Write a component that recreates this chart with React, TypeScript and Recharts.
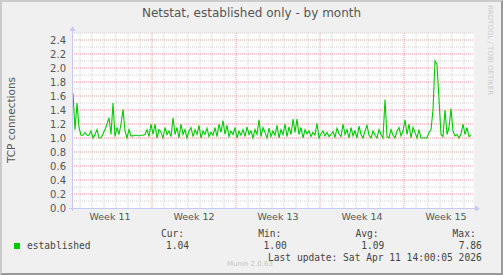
import React from 'react';
import {
  LineChart,
  Line,
  XAxis,
  YAxis,
  ReferenceLine,
} from 'recharts';

// established connections, one sample every 4 hours (oldest first)
const established = [
  1.64, 1.12, 1.5, 1.15, 1.04, 1.04, 1.08, 1.04, 1.04, 1.1,
  1.0, 1.05, 1.12, 1.0, 1.0, 1.06, 1.12, 1.2, 1.29, 1.05,
  1.5, 1.02, 1.15, 1.05, 1.2, 1.41, 1.1, 1.0, 1.12, 1.03,
  1.03, 1.04, 1.04, 1.03, 1.04, 1.04, 1.05, 1.12, 1.02, 1.2,
  1.05, 1.2, 1.0, 1.12, 1.08, 1.0, 1.15, 1.05, 1.1, 1.02,
  1.29, 1.05, 1.15, 1.0, 1.2, 1.05, 1.12, 1.0, 1.1, 1.15,
  1.02, 1.12, 1.05, 1.18, 1.0, 1.1, 1.05, 1.14, 1.02, 1.08,
  1.04, 1.15, 1.02, 1.2, 1.08, 1.25, 1.05, 1.18, 1.02, 1.1,
  1.05, 1.15, 1.0, 1.1, 1.04, 1.12, 1.02, 1.16, 1.05, 1.1,
  1.0, 1.12, 1.05, 1.26, 1.02, 1.15, 1.08, 1.0, 1.14, 1.02,
  1.1, 1.04, 1.18, 1.0, 1.12, 1.05, 1.2, 1.02, 1.16, 1.05,
  1.27, 1.08, 1.27, 1.05, 1.15, 1.0, 1.12, 1.06, 1.1, 1.02,
  1.08, 1.04, 1.21, 1.0, 1.06, 1.1, 1.03, 1.08, 1.02, 1.05,
  1.09, 1.01, 1.14, 1.06, 1.02, 1.2, 1.05, 1.12, 1.0, 1.15,
  1.03, 1.1, 1.0, 1.17, 1.05, 1.0, 1.1, 1.18, 1.04, 1.0,
  1.1, 1.04, 1.0, 1.12, 1.05, 1.0, 1.55, 1.02, 1.0, 1.12,
  1.04, 1.0, 1.1, 1.15, 1.03, 1.1, 1.26, 1.05, 1.2, 1.0,
  1.15, 1.08, 1.0, 1.12, 1.0, 1.0, 1.0, 1.0, 1.08, 1.12,
  1.4, 2.1, 2.05, 1.55, 1.05, 1.02, 1.4, 1.05, 1.15, 1.42,
  1.1, 1.03, 1.05, 1.0, 1.06, 1.2, 1.05, 1.15, 1.02, 1.04,
];

// time axis in days from the left edge of the graph
const rangeDays = 33.5;
const sampleDays = 1 / 6;
const weekStarts = [6.667, 13.667, 20.667, 27.667];
const weekLabels = ['Week 11', 'Week 12', 'Week 13', 'Week 14', 'Week 15'];
const weekMids = [3.167, 10.167, 17.167, 24.167, 31.167];

const yMax = 2.5;
const yTicks = [0, 0.2, 0.4, 0.6, 0.8, 1.0, 1.2, 1.4, 1.6, 1.8, 2.0, 2.2, 2.4];
const yMinor = [0.1, 0.3, 0.5, 0.7, 0.9, 1.1, 1.3, 1.5, 1.7, 1.9, 2.1, 2.3, 2.5];

const legendCols = ['Cur:', 'Min:', 'Avg:', 'Max:'];
const legendVals = ['1.04', '1.00', '1.09', '7.86'];

const data = established.map((v, i) => ({ t: i * sampleDays + sampleDays / 2, v }));

const dayLines: number[] = [];
for (let d = weekStarts[0] - 6; d < rangeDays; d += 1) {
  const r = Math.round(d * 1000) / 1000;
  if (!weekStarts.some((w) => Math.abs(w - r) < 0.01)) dayLines.push(r);
}

const W = 503;
const H = 275;
const PL = 72;
const PT = 33;
const PR = 474;
const PB = 208;

const sans = '"DejaVu Sans", sans-serif';
const mono = '"DejaVu Sans Mono", monospace';
const abs = (x: number, y: number): React.CSSProperties => ({
  position: 'absolute',
  left: x,
  top: y,
  whiteSpace: 'nowrap',
  lineHeight: 1,
});

export default function App() {
  const minorStroke = '#cfcfcf';
  const majorStroke = '#f29a9a';
  return (
    <div style={{ position: 'absolute', left: 0, top: 0, width: W, height: H, background: '#f0f0f0', overflow: 'hidden' }}>
      <div style={{ position: 'absolute', left: PL, top: PT, width: PR - PL, height: PB - PT, background: '#fff' }} />
      <div style={{ position: 'absolute', left: 0, top: 0 }}>
        <LineChart width={W} height={H} data={data} margin={{ top: PT, right: W - PR, left: 0, bottom: 0 }}>
          <XAxis
            dataKey="t"
            type="number"
            domain={[0, rangeDays]}
            ticks={weekMids}
            tickFormatter={(v, i) => weekLabels[i]}
            axisLine={false}
            tickLine={false}
            tickSize={3}
            height={H - PB}
            tick={{ fill: '#555', fontSize: 9.5, fontFamily: sans }}
            interval={0}
          />
          <YAxis
            type="number"
            domain={[0, yMax]}
            ticks={yTicks}
            tickFormatter={(v) => Number(v).toFixed(1)}
            axisLine={false}
            tickLine={false}
            tickSize={4}
            width={PL}
            tick={{ fill: '#555', fontSize: 10, fontFamily: sans }}
            interval={0}
          />
          {yMinor.map((y) => (
            <ReferenceLine key={'hm' + y} y={y} stroke={minorStroke} strokeDasharray="1 1" />
          ))}
          {dayLines.map((x) => (
            <ReferenceLine key={'vm' + x} x={x} stroke={minorStroke} strokeDasharray="1 1" />
          ))}
          {yTicks.slice(1).map((y) => (
            <ReferenceLine key={'hM' + y} y={y} stroke={majorStroke} strokeDasharray="1 1" />
          ))}
          {weekStarts.map((x) => (
            <ReferenceLine key={'vM' + x} x={x} stroke={majorStroke} strokeDasharray="1 1" />
          ))}
          <Line
            type="linear"
            dataKey="v"
            stroke="#00cc00"
            strokeWidth={1.1}
            dot={false}
            isAnimationActive={false}
          />
        </LineChart>
      </div>
      <svg width={W} height={H} style={{ position: 'absolute', left: 0, top: 0, pointerEvents: 'none' }}>
        <line x1={PL + 0.5} y1={PB + 3} x2={PL + 0.5} y2={28} stroke="#c8c8f6" />
        <line x1={PL - 3} y1={PB + 0.5} x2={476} y2={PB + 0.5} stroke="#c8c8f6" />
        <polygon points={`${PL - 2.5},${31} ${PL + 3.5},${31} ${PL + 0.5},${26}`} fill="#c8c8f6" />
        <polygon points={`${475},${PB - 2.5} ${475},${PB + 3.5} ${480},${PB + 0.5}`} fill="#c8c8f6" />
        <text
          x={11}
          y={120}
          transform="rotate(-90 11 120)"
          textAnchor="middle"
          dominantBaseline="central"
          fill="#555"
          fontSize={10.5}
          fontFamily={sans}
        >
          TCP connections
        </text>
      </svg>
      <div style={{ ...abs(0, 7), width: W, textAlign: 'center', fontFamily: sans, fontSize: 12, color: '#555' }}>
        Netstat, established only - by month
      </div>
      <div
        style={{
          ...abs(486, 5),
          fontFamily: sans,
          fontSize: 7,
          color: '#ccc',
          writingMode: 'vertical-rl',
        }}
      >
        RRDTOOL / TOBI OETIKER
      </div>
      <div style={{ ...abs(14, 243), width: 6, height: 6, background: '#00cc00' }} />
      <div style={{ ...abs(27, 241), fontFamily: mono, fontSize: 9.6, color: '#444' }}>established</div>
      {legendCols.map((c, i) => (
        <div key={c} style={{ ...abs(161 + i * 97.2, 229), fontFamily: mono, fontSize: 9.6, color: '#444' }}>
          {c}
        </div>
      ))}
      {legendVals.map((v, i) => (
        <div key={v + i} style={{ ...abs(166 + i * 97.6, 241), fontFamily: mono, fontSize: 9.6, color: '#444' }}>
          {v}
        </div>
      ))}
      <div style={{ ...abs(268, 253), fontFamily: mono, fontSize: 9.6, color: '#444' }}>
        Last update: Sat Apr 11 14:00:05 2026
      </div>
      <div style={{ ...abs(227, 261), fontFamily: sans, fontSize: 7, color: '#c4c4c4' }}>Munin 2.0.63</div>
      <div
        style={{
          position: 'absolute',
          left: 0,
          top: 0,
          width: W,
          height: H,
          boxSizing: 'border-box',
          borderTop: '2px solid #cbcbcb',
          borderLeft: '2px solid #cbcbcb',
          borderRight: '2px solid #999',
          borderBottom: '2px solid #999',
          pointerEvents: 'none',
        }}
      />
    </div>
  );
}
